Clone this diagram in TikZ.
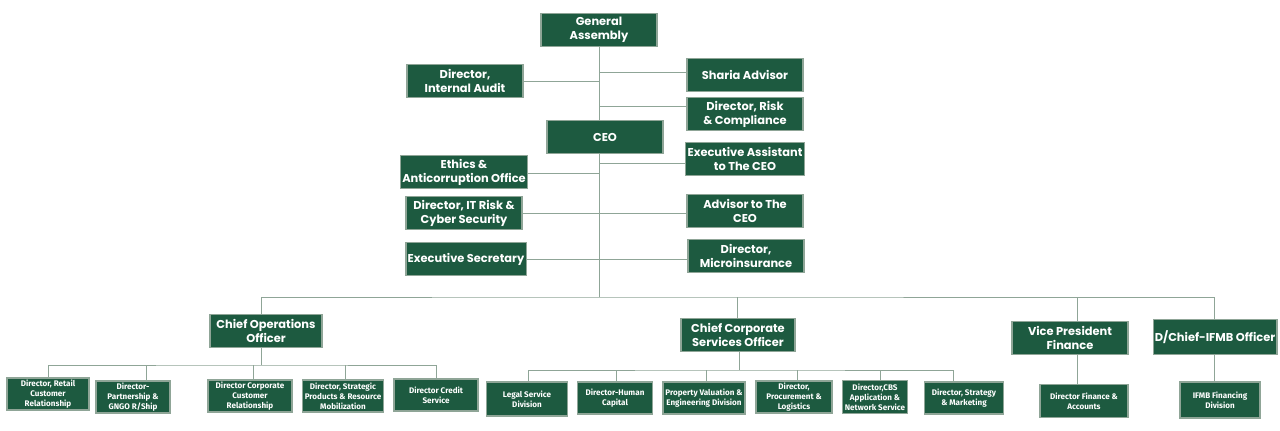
\documentclass[tikz,border=0pt]{standalone}
\usepackage{fontspec}
\setmainfont{Poppins}
\newfontfamily\smallfont{Fira Sans}
\usetikzlibrary{positioning, backgrounds}
\definecolor{boxgreen}{HTML}{1D5A40}
\definecolor{linegrey}{HTML}{8FA597}

\begin{document}
\begin{tikzpicture}[x=0.02cm, y=-0.02cm, line width=0.6pt,
  big box/.style={fill=boxgreen, draw=linegrey, text=white, font=\fontsize{6.5}{8}\selectfont\bfseries,
    align=center, minimum width=116*0.02cm, minimum height=33*0.02cm, inner sep=1pt},
  small box/.style={fill=boxgreen, draw=linegrey, text=white, font=\smallfont\fontsize{4.6}{5.6}\selectfont\bfseries,
    align=center, minimum height=32*0.02cm, inner sep=1pt},
  link/.style={draw=linegrey}]

\useasboundingbox (0,0) rectangle (1280,431);

\node[big box] (GA) at (599,30) {General\\Assembly};
\node[big box] (IA) at (465,81) {Director,\\Internal Audit};
\node[big box] (SA) at (745,75) {Sharia Advisor};
\node[big box] (RC) at (745,114) {Director, Risk\\\& Compliance};
\node[big box] (CEO) at (605,137) {CEO};
\node[big box] (EA) at (745,159) {Executive Assistant\\to The CEO};
\node[big box] (EO) at (464,172) {Ethics \&\\Anticorruption Office};
\node[big box] (IT) at (464,213) {Director, IT Risk \&\\Cyber Security};
\node[big box] (AD) at (745,211) {Advisor to The\\CEO};
\node[big box] (ES) at (466,259) {Executive Secretary};
\node[big box] (MI) at (746,256) {Director,\\Microinsurance};

\node[big box, minimum width=112*0.02cm] (COO) at (266,331) {Chief Operations\\Officer};
\node[big box, minimum width=114*0.02cm] (CSO) at (738,335) {Chief Corporate\\Services Officer};
\node[big box] (VPF) at (1070,338) {Vice President\\Finance};
\node[big box, minimum height=35*0.02cm] (IFO) at (1215,337) {D/Chief-IFMB Officer};

% operations
\node[small box, minimum width=82*0.02cm] (RCR) at (48,394) {Director, Retail\\Customer\\Relationship};
\node[small box, minimum width=74*0.02cm] (PGR) at (133,397) {Director-\\Partnership \&\\GNGO R/Ship};
\node[small box, minimum width=84*0.02cm] (CCR) at (250,396) {Director Corporate\\Customer\\Relationship};
\node[small box, minimum width=81*0.02cm] (SPR) at (343,396) {Director, Strategic\\Products \& Resource\\Mobilization};
\node[small box, minimum width=84*0.02cm] (DCS) at (436,395) {Director Credit\\Service};

% corporate services
\node[small box, minimum width=81*0.02cm, minimum height=34*0.02cm] (LSD) at (527,399) {Legal Service\\Division};
\node[small box, minimum width=75*0.02cm] (DHC) at (615,398) {Director-Human\\Capital};
\node[small box, minimum width=82*0.02cm] (PVE) at (704,398) {Property Valuation \&\\Engineering Division};
\node[small box, minimum width=76*0.02cm] (DPL) at (794,397) {Director,\\Procurement \&\\Logistics};
\node[small box, minimum width=65*0.02cm, minimum height=33*0.02cm] (CBS) at (875,397) {Director,CBS\\Application \&\\Network Service};
\node[small box, minimum width=79*0.02cm] (DSM) at (964,398) {Director, Strategy\\\& Marketing};

\node[small box, minimum width=88*0.02cm, minimum height=33*0.02cm] (DFA) at (1084,401) {Director Finance \&\\Accounts};
\node[small box, minimum width=80*0.02cm, minimum height=36*0.02cm] (IFD) at (1220,400) {IFMB Financing\\Division};

\begin{scope}[on background layer]
\coordinate (bus) at (599,297);
\path[link] (GA.south -| 599,0) -- (bus);
\path[link] (IA.east |- 0,81) -- (599,81);
\path[link] (SA.west |- 0,72) -- (599,72);
\path[link] (RC.west |- 0,106) -- (599,106);
\path[link] (EA.west |- 0,163) -- (599,163);
\path[link] (EO.east |- 0,173) -- (599,173);
\path[link] (IT.east |- 0,213) -- (AD.west |- 0,213);
\path[link] (ES.east |- 0,259) -- (MI.west |- 0,259);
\path[link] (COO.north -| 261,0) |- (bus) -| (IFO.north -| 1214,0);
\path[link] (CSO.north -| 737,0) -- (737,297);
\path[link] (VPF.north -| 1077,0) -- (1077,297);

% operations bus
\path[link] (COO.south -| 261,0) -- (261,365);
\path[link] (RCR.north) |- (261,365) -| (DCS.north);
\foreach \n/\x in {PGR/146, CCR/253, SPR/345}
  \path[link] (\n.north -| \x,0) -- (\x,365);

% corporate services bus
\path[link] (CSO.south -| 739,0) -- (739,370);
\path[link] (LSD.north -| 528,0) |- (739,370) -| (DSM.north -| 953,0);
\foreach \n/\x in {DHC/616, PVE/706, DPL/797, CBS/880}
  \path[link] (\n.north -| \x,0) -- (\x,370);

\path[link] (VPF.south -| 1077,0) -- (DFA.north -| 1077,0);
\path[link] (IFO.south -| 1214,0) -- (IFD.north -| 1214,0);
\end{scope}

\end{tikzpicture}
\end{document}
